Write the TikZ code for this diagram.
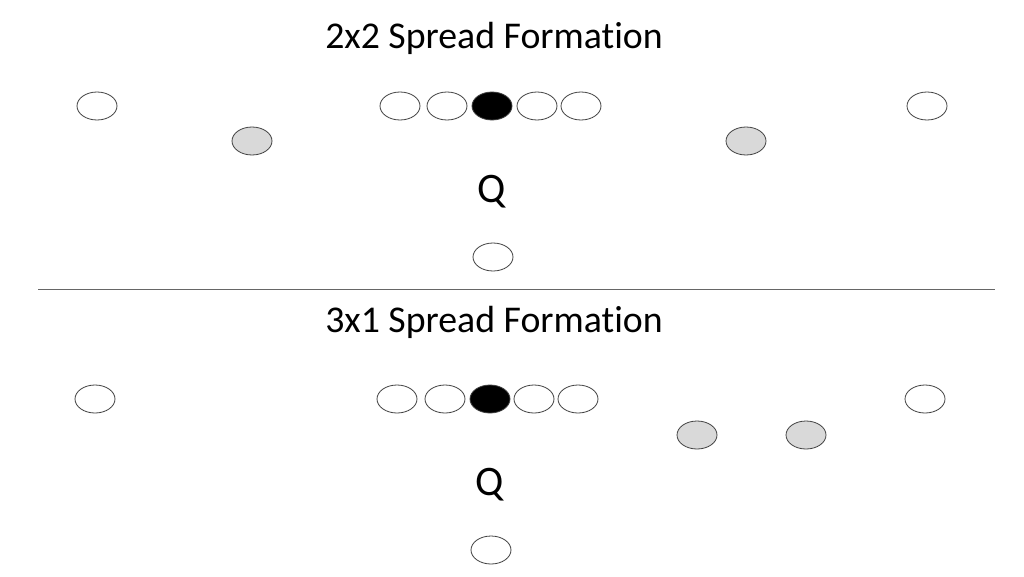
\documentclass[tikz,border=0pt]{standalone}
\usepackage{fontspec}
\setmainfont{Carlito}[Ligatures=NoCommon]
\usetikzlibrary{shapes.geometric}
\begin{document}
\begin{tikzpicture}[x=1pt,y=-1pt,
  player/.style={ellipse,draw=black!75,line width=0.8pt,minimum width=40pt,minimum height=28pt,inner sep=0pt,fill=white},
  wr/.style={player,fill=white},
  slot/.style={player,fill=black!15},
  center/.style={player,fill=black},
  title/.style={font=\fontsize{37.8}{42}\selectfont,anchor=base},
  qb/.style={font=\fontsize{42}{46}\selectfont,anchor=base}]
\useasboundingbox (0,0) rectangle (1024,576);
% top formation
\node[title] (t1) at (494,48) {2x2 Spread Formation};
\node[wr] (a1) at (97,106) {};
\node[slot] (a2) at (252,141) {};
\node[wr] (a3) at (400,106) {};
\node[wr] (a4) at (447,106) {};
\node[center] (a5) at (492,106) {};
\node[wr] (a6) at (537,106) {};
\node[wr] (a7) at (581,106) {};
\node[slot] (a8) at (746,141) {};
\node[wr] (a9) at (927,106) {};
\node[qb] (q1) at (492,202) {Q};
\node[wr] (r1) at (493,257) {};
% divider
\coordinate (l1) at (38,289);
\coordinate (l2) at (995,289);
\draw[black!60,line width=0.8pt] (l1) -- (l2);
% bottom formation
\node[title] (t2) at (494,332) {3x1 Spread Formation};
\node[wr] (b1) at (95,399) {};
\node[wr] (b2) at (397,399) {};
\node[wr] (b3) at (445,399) {};
\node[center] (b4) at (490,399) {};
\node[wr] (b5) at (534,399) {};
\node[wr] (b6) at (578,399) {};
\node[slot] (b7) at (697,435) {};
\node[slot] (b8) at (806,435) {};
\node[wr] (b9) at (925,399) {};
\node[qb] (q2) at (490,495) {Q};
\node[wr] (r2) at (491,550) {};
\end{tikzpicture}
\end{document}
